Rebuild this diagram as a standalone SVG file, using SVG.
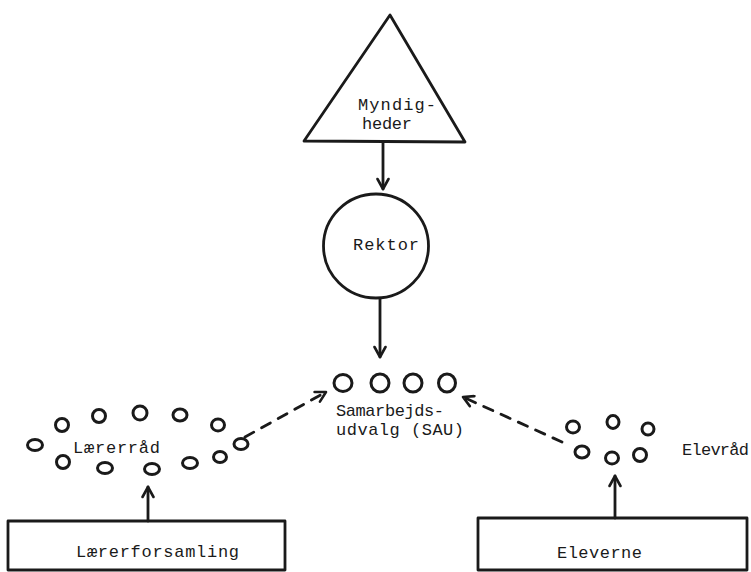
<svg xmlns="http://www.w3.org/2000/svg" width="751" height="572" viewBox="0 0 751 572">
<defs>
<style>
.sh{fill:none;stroke:#1a1a1a;stroke-width:2.8;stroke-linejoin:round;stroke-linecap:round}
.c{fill:none;stroke:#1a1a1a;stroke-width:3}
.m{fill:none;stroke:#1a1a1a;stroke-width:2.8;stroke-linecap:round}
.dash{stroke-dasharray:10 9}
.t{font-family:"Liberation Mono","Courier New",monospace;font-size:17px;fill:#1a1a1a}
</style>
<marker id="ah" viewBox="0 0 14 14" refX="12" refY="7" markerWidth="14" markerHeight="14" markerUnits="userSpaceOnUse" orient="auto">
<path d="M2,1.5 L12,7 L2,12.5" fill="none" stroke="#1a1a1a" stroke-width="2.6" stroke-linecap="round" stroke-linejoin="round"/>
</marker>
</defs>
<rect width="751" height="572" fill="#fff"/>
<g id="myndigheder">
<polygon class="sh" points="390,15 304,141 465,142"/>
<text class="t" x="358" y="110" textLength="78" lengthAdjust="spacing">Myndig-</text>
<text class="t" x="362" y="129" textLength="50" lengthAdjust="spacing">heder</text>
</g>
<g id="rektor">
<ellipse class="sh" cx="376" cy="246" rx="52.5" ry="52"/>
<text class="t" x="353" y="250" textLength="66" lengthAdjust="spacing">Rektor</text>
</g>
<g id="sau">
<ellipse class="c" cx="343" cy="383" rx="9" ry="8.5"/>
<ellipse class="c" cx="380" cy="383" rx="9" ry="9"/>
<ellipse class="c" cx="413" cy="383" rx="9" ry="9"/>
<ellipse class="c" cx="447" cy="383" rx="8.5" ry="9"/>
<text class="t" x="336" y="416" textLength="108" lengthAdjust="spacing">Samarbejds-</text>
<text class="t" x="336" y="435" textLength="128" lengthAdjust="spacing">udvalg (SAU)</text>
</g>
<g id="laererraad">
<ellipse class="c" cx="35" cy="445" rx="7.5" ry="5.5"/>
<ellipse class="c" cx="62" cy="425" rx="6.5" ry="6.5"/>
<ellipse class="c" cx="99" cy="416" rx="6.5" ry="6.5"/>
<ellipse class="c" cx="140" cy="413" rx="7" ry="7"/>
<ellipse class="c" cx="180" cy="415" rx="7" ry="6"/>
<ellipse class="c" cx="218" cy="425" rx="6.5" ry="6"/>
<ellipse class="c" cx="241" cy="444" rx="7" ry="5.5"/>
<ellipse class="c" cx="220" cy="457" rx="6.5" ry="5.5"/>
<ellipse class="c" cx="190" cy="463" rx="7.5" ry="5.5"/>
<ellipse class="c" cx="152" cy="469" rx="7.5" ry="5.5"/>
<ellipse class="c" cx="105" cy="468" rx="7.5" ry="5.5"/>
<ellipse class="c" cx="63" cy="462" rx="6.5" ry="6.5"/>
<text class="t" x="73" y="453" textLength="87" lengthAdjust="spacing">Lærerråd</text>
</g>
<g id="elevraad">
<ellipse class="c" cx="573" cy="427" rx="6.5" ry="6"/>
<ellipse class="c" cx="613" cy="422" rx="6" ry="6.5"/>
<ellipse class="c" cx="648" cy="429" rx="6" ry="6"/>
<ellipse class="c" cx="582" cy="452" rx="7" ry="6"/>
<ellipse class="c" cx="612" cy="458" rx="6.5" ry="6"/>
<ellipse class="c" cx="640" cy="455" rx="6.5" ry="6.5"/>
<text class="t" x="682" y="455" textLength="67" lengthAdjust="spacing">Elevråd</text>
</g>
<g id="laererforsamling">
<path class="sh" d="M8,521 L285,521 L285,570 L8,570 Z"/>
<text class="t" x="76" y="557" textLength="163" lengthAdjust="spacing">Lærerforsamling</text>
</g>
<g id="eleverne">
<path class="sh" d="M478,518 L747,518 L747,570 L478,570 Z"/>
<text class="t" x="557" y="558" textLength="85" lengthAdjust="spacing">Eleverne</text>
</g>
<g id="connectors">
<line class="m" x1="383" y1="143" x2="383" y2="189" marker-end="url(#ah)"/>
<line class="m" x1="380" y1="299" x2="380" y2="357" marker-end="url(#ah)"/>
<line class="m dash" x1="245" y1="437" x2="326" y2="392" marker-end="url(#ah)"/>
<line class="m dash" x1="562" y1="442" x2="463" y2="397" marker-end="url(#ah)"/>
<line class="m" x1="148" y1="521" x2="148" y2="487" marker-end="url(#ah)"/>
<line class="m" x1="615" y1="518" x2="615" y2="476" marker-end="url(#ah)"/>
</g>
</svg>
